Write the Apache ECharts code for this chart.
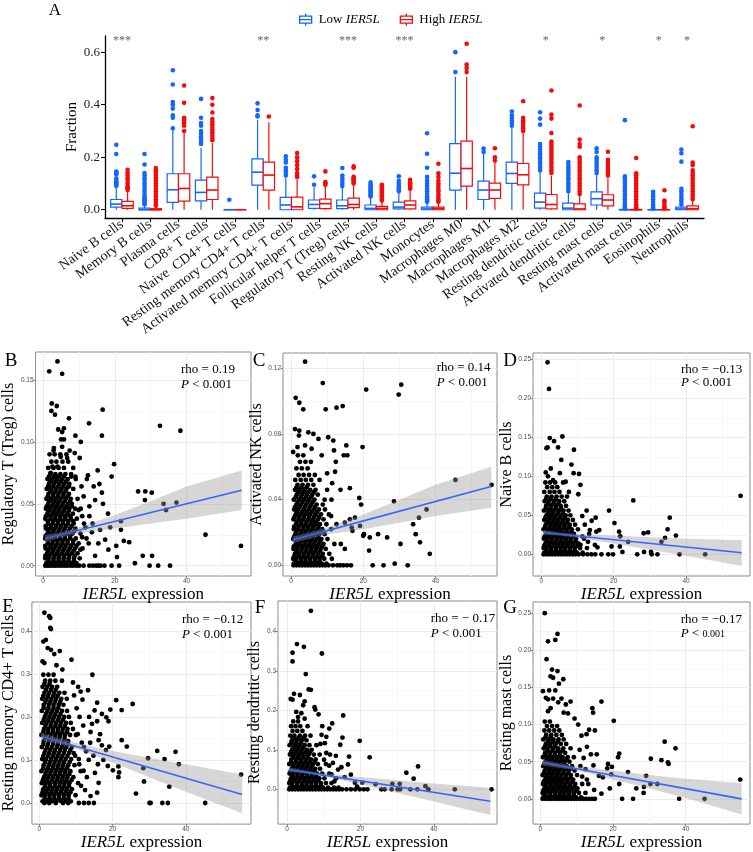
<!DOCTYPE html>
<html><head><meta charset="utf-8">
<script src="https://cdn.jsdelivr.net/npm/echarts@6/dist/echarts.min.js"></script>
<style>html,body{margin:0;padding:0;background:#fff}#c{width:753px;height:852px}</style>
</head><body><div id="c"></div><script>
const SERIF = 'Liberation Serif';
const BLUE = '#1166ff', RED = '#f50a0a';

// ---------- Panel A data ----------
const categories = ['Naive B cells','Memory B cells','Plasma cells','CD8+ T cells','Naive  CD4+ T cells','Resting memory CD4+ T cells','Activated memory CD4+ T cells','Follicular helper T cells','Regulatory T (Treg) cells','Resting NK cells','Activated NK cells','Monocytes','Macrophages M0','Macrophages M1','Macrophages M2','Resting dendritic cells','Activated dendritic cells','Resting mast cells','Activated mast cells','Eosinophils','Neutrophils'];
const sigLabels = ['***','','','','','**','','','***','','***','','','','','*','','*','','*','*'];
const fractionTicks = [0, 0.2, 0.4, 0.6];
// [min, Q1, median, Q3, max]
const lowBox = [[0,.010,.0215,.039,.085],[0,0,0,.006,.015],[0,.028,.076,.137,.305],[0,.034,.066,.113,.235],[0,0,0,0,0],[0,.094,.143,.194,.341],[0,0,.018,.047,.12],[0,.005,.020,.037,.085],[0,.004,.015,.037,.085],[0,0,.005,.018,.045],[0,.003,.010,.029,.068],[0,0,.003,.010,.025],[0,.075,.139,.252,.506],[0,.039,.075,.109,.212],[0,.100,.138,.181,.311],[0,.006,.029,.063,.145],[0,0,.006,.025,.062],[0,.018,.042,.068,.135],[0,0,0,.001,.003],[0,0,0,0,0],[0,0,.003,.010,.025]];
const highBox = [[0,.005,.015,.032,.07],[0,0,0,.004,.01],[0,.033,.081,.137,.292],[0,.039,.075,.124,.254],[0,0,0,0,0],[0,.075,.132,.181,.333],[0,0,.011,.048,.115],[0,.004,.023,.040,.09],[0,.008,.020,.044,.095],[0,0,.005,.013,.033],[0,.003,.018,.034,.078],[0,0,.004,.010,.025],[0,.090,.157,.261,.505],[0,.043,.075,.101,.18],[0,.095,.133,.176,.292],[0,.003,.020,.058,.13],[0,0,.003,.022,.055],[0,.015,.037,.057,.12],[0,0,0,.001,.003],[0,0,0,0,0],[0,0,.004,.015,.036]];
const lowOut = [[.247,.212,.145,.142,.138,.135,.12,.11,.105,.10,.095,.09],[.212,.172,.14,.13,.12,.11,.10,.09,.08,.07,.06,.05,.045,.04,.035,.03,.025,.02],[.531,.477,.41,.40,.385,.36,.35,.31],[.422,.35,.33,.32,.30,.29,.28,.27,.26,.25],[.038],[.405,.38,.36,.355],[.203,.19,.18,.16,.15,.14,.13],[.127,.095],[.159,.13,.12,.11,.10,.09],[.104,.095,.09,.085,.08,.075,.07,.065,.06,.055,.05],[.127,.11,.10,.09,.085,.08,.075,.07],[.291,.213,.16,.125,.11,.10,.09,.08,.07,.06,.05,.045,.04,.035,.03],[.60,.524],[.233,.22],[.374,.36,.35,.34,.33,.32],[.371,.347,.324,.25,.24,.23,.22,.21,.20,.19,.18,.17,.16,.15],[.182,.17,.16,.15,.14,.13,.12,.11,.10,.09,.08,.07],[.234,.22,.2,.19,.18,.17,.16,.15,.14],[.341,.127,.12,.11,.10,.09,.08,.07,.06,.05,.04,.03,.02,.015,.01,.005],[.068,.06,.05,.04,.03,.02,.01,.005],[.229,.215,.183,.08,.07,.06,.05,.04,.03,.02]];
const highOut = [[.152,.14,.13,.12,.11,.10,.09,.085,.08,.075],[.159,.15,.14,.13,.12,.11,.10,.09,.08,.07,.06,.05,.04,.03,.02,.015],[.473,.407,.35,.345,.34,.33,.32,.30],[.425,.40,.37,.345,.335,.325,.315,.305,.295,.285,.275,.265],[],[.355],[.216,.20,.185,.17,.155,.14,.13,.125],[.146,.105,.10,.095],[.165,.16,.125,.12,.115,.11,.105,.10],[.095,.09,.085,.08,.075,.07,.065,.06,.055,.05,.045,.04,.035],[.114,.105,.10,.095,.09,.085,.08],[.175,.139,.125,.11,.10,.09,.08,.07,.06,.05,.04,.035,.03],[.632,.553,.54,.524],[.234,.20,.187],[.413,.35,.34,.33,.32,.31,.30],[.454,.362,.347,.292,.26,.25,.24,.23,.22,.21,.20,.19,.18,.17,.16,.15,.14],[.397,.267,.25,.24,.20,.19,.18,.17,.16,.15,.14,.13,.12,.11,.10,.09,.08,.07,.06],[.221,.19,.18,.17,.16,.15,.14,.13],[.197,.139,.13,.12,.11,.10,.09,.08,.07,.06,.05,.04,.03,.02,.015,.01,.005],[.074,.035,.03,.02,.01,.005],[.318,.18,.17,.15,.14,.13,.12,.11,.10,.09,.08,.07,.06,.05,.04]];

// ---------- Scatter panels: x = IER5L expression ----------
const xMajor = [0, 20, 40];
const xMinor = [10, 30, 50];

// dense clouds written as rows: [y, [x values]]
const cloudB = [[.002,[0.9,2.2,3.6,5.0,6.4,7.9,9.3]],[.006,[0.6,1.5,2.9,4.3,5.7,7.1,8.6,10.2]],[.010,[1.1,2.4,3.8,5.2,6.6,8.0,9.6]],[.014,[0.7,1.8,3.1,4.5,5.9,7.4,8.9,11.0]],[.018,[1.3,2.6,4.0,5.4,6.8,8.3,9.9]],[.022,[0.6,2.0,3.3,4.7,6.1,7.6,9.1,12.1]],[.026,[1.2,2.5,3.9,5.3,6.7,8.2,10.4]],[.030,[0.8,1.9,3.2,4.6,6.0,7.5,9.0]],[.034,[1.4,2.7,4.1,5.5,6.9,8.5,11.4]],[.038,[0.6,2.1,3.4,4.8,6.2,7.7,9.4]],[.042,[1.2,2.6,3.9,5.3,6.8,8.3]],[.046,[0.8,1.9,3.3,4.6,6.0,7.3,8.9,10.5]],[.050,[1.4,2.8,4.1,5.5,7.0,8.0]],[.054,[0.9,2.2,3.5,4.9,6.3,7.7,9.6]],[.058,[1.5,2.9,4.3,5.7,7.2]],[.062,[1.0,2.3,3.7,5.1,6.5,8.4]],[.066,[1.6,3.0,4.4,5.8,7.3]],[.070,[1.2,2.5,3.9,5.3,6.9,9.1]],[.074,[2.0,3.4,4.8,6.2,7.8]],[.079,[1.4,2.9,4.3,5.8]],[.084,[2.3,3.7,5.4,7.0]],[.090,[1.8,3.2,4.8,6.5]],
 [.004,[1.5,2.9,4.3,5.7,7.1,8.6]],[.008,[0.6,1.8,3.2,4.5,5.9,7.3,8.8]],[.012,[1.4,2.8,4.2,5.6,7.0,8.5]],[.016,[0.6,2.1,3.5,4.9,6.3,7.8,9.3]],[.020,[1.3,2.7,4.0,5.4,6.8,8.4]],[.024,[0.7,1.9,3.3,4.6,6.0,7.5]],[.028,[1.5,2.9,4.3,5.7,7.1,8.7]],[.032,[0.7,2.2,3.6,5.0,6.4,7.9]],[.036,[1.3,2.8,4.1,5.5,7.0,8.4]],[.040,[0.8,2.0,3.4,4.8,6.2,7.6]],[.044,[1.5,2.9,4.3,5.7,7.1]],[.048,[1.0,2.3,3.7,5.1,6.5,8.0]],[.052,[1.7,3.1,4.5,6.0,7.5]],[.056,[1.3,2.7,4.1,5.5,6.8]],[.060,[2.0,3.4,4.8,6.2]],[.064,[1.4,2.8,4.2,5.6,7.0]],[.068,[2.1,3.5,4.9,6.4]],[.072,[1.6,3.0,4.4,5.8]]];
const sparseB = [[4.0,.165],[1.7,.157],[5.3,.155],[2.4,.131],[3.8,.129],[2.3,.125],[3.3,.122],[7.2,.119],[12.8,.115],[16.6,.126],[16.4,.105],[32.6,.113],[38.3,.109],[9.0,.105],[10.5,.100],[19.8,.082],[19.1,.072],[26.5,.060],[28.5,.060],[30.3,.059],[28.4,.053],[33.6,.050],[34.3,.045],[37.2,.051],[45.3,.025],[55.2,.016],[21.7,.036],[21.7,.029],[22.5,.020],[24.0,.019],[20.4,.016],[20.6,.007],[21.2,0],[25.6,.002],[27.8,.008],[30.4,.008],[32.1,0],[35.4,0],[29.7,0],[18.1,.042],[18.7,.031],[17.3,.021],[18.2,.013],[15.4,.018],[15.9,.029],[15.2,.077],[15.7,.066],[14.1,.064],[14.5,.053],[16.4,.059],[16.7,.050],[12.9,.048],[12.9,.040],[13.8,.034],[13.6,.027],[12.7,.018],[14.5,.008],[12.9,0],[11.3,0],[15.4,0],[17.1,0],[19.1,0],[10.7,.064],[11.3,.056],[9.9,.045],[10.9,.040],[11.8,.031],[10.9,.023],[10.4,.013],[12.2,.070],[12.5,.073],[10.2,.087],[8.8,.091],[7.4,.093],[6.7,.087],[5.3,.096],[5.3,.108],[5.8,.111],[5.0,.102],[4.2,.110],[5.8,.102],[3.0,.095],[2.9,.093],[4.9,.088],[4.0,.080],[2.6,.080],[3.5,.072],[2.1,.075],[1.7,.064],[8.4,.079],[7.9,.072],[7.2,.064],[9.0,.072],[0.6,0],[1.3,0],[2.0,0],[2.8,0],[3.5,0],[4.3,0],[5.1,0],[5.9,0],[6.7,0],[7.6,0],[8.4,0],[9.3,0],[10.1,0],[13.9,0],[14.8,0],[16.0,0]];

const cloudC = [[.001,[0.8,2.0,3.3,4.6,5.9,7.2,8.5,9.8]],[.004,[0.6,1.4,2.7,4.0,5.3,6.6,7.9,9.2,11.3]],[.007,[1.1,2.3,3.6,4.9,6.2,7.5,8.8,10.6]],[.010,[0.7,1.7,3.0,4.3,5.6,6.9,8.2,9.6]],[.013,[1.3,2.5,3.8,5.1,6.4,7.7,9.0,12.0]],[.016,[0.6,1.9,3.2,4.5,5.8,7.1,8.4,10.1]],[.019,[1.2,2.6,3.9,5.2,6.5,7.8,9.3]],[.022,[0.8,2.0,3.3,4.6,5.9,7.3,8.7,11.1]],[.025,[1.4,2.7,4.0,5.4,6.7,8.0,9.8]],[.028,[0.7,2.1,3.4,4.8,6.1,7.5,9.0]],[.031,[1.3,2.6,4.0,5.3,6.8,8.3,10.5]],[.034,[0.9,2.0,3.5,4.9,6.3,7.7]],[.037,[1.5,2.8,4.2,5.6,7.1,8.8]],[.040,[0.8,2.3,3.6,5.0,6.5,9.3]],[.043,[1.6,3.0,4.4,5.9,7.4]],[.046,[1.1,2.4,3.8,5.3,6.8,10.0]],[.049,[1.8,3.2,4.7,6.2]],[.052,[1.2,2.7,4.1,5.6,7.9]],[.055,[2.1,3.5,5.0,6.6]],[.059,[1.5,3.0,4.6]],[.063,[2.5,4.0,5.5]],[.067,[1.9,3.4]],
 [.0025,[1.4,2.7,4.0,5.3,6.6,7.9]],[.0055,[0.9,2.1,3.4,4.7,6.0,7.3,8.6]],[.0085,[1.5,2.8,4.1,5.4,6.7,8.0]],[.0115,[0.8,2.0,3.3,4.6,5.9,7.2,8.6]],[.0145,[1.4,2.7,4.0,5.3,6.6,8.0]],[.0175,[0.9,2.2,3.5,4.8,6.1,7.5]],[.0205,[1.5,2.9,4.2,5.6,6.9,8.2]],[.0235,[0.9,2.1,3.5,4.8,6.2,7.6]],[.0265,[1.6,2.9,4.3,5.7,7.0]],[.0295,[1.0,2.3,3.6,5.0,6.4,7.8]],[.0325,[1.7,3.1,4.4,5.8,7.2]],[.0355,[1.1,2.4,3.8,5.2,6.6]],[.0385,[1.8,3.2,4.6,6.0]],[.0415,[1.3,2.7,4.1,5.5]],[.0445,[2.0,3.4,4.8,6.3]],[.0475,[1.5,2.9,4.3]]];
const sparseC = [[3.9,.124],[8.8,.111],[1.3,.102],[2.3,.099],[3.4,.095],[9.6,.095],[12.6,.096],[14.3,.097],[20.8,.107],[29.8,.104],[30.5,.110],[1.1,.083],[2.3,.082],[2.2,.079],[4.8,.081],[6.2,.080],[7.6,.077],[10.3,.078],[11.7,.076],[1.8,.072],[0.6,.069],[3.9,.073],[5.7,.071],[8.5,.067],[11.9,.070],[15.3,.073],[14.6,.067],[15.6,.067],[12.4,.063],[19.8,.072],[16.3,.047],[18.9,.041],[19.4,.037],[28.5,.039],[37.5,.034],[35.4,.029],[33.8,.025],[45.5,.052],[55.5,.049],[34.5,.019],[35.7,.014],[38.4,.007],[30.3,.013],[24.1,.019],[26.6,.017],[21.8,.017],[21.6,.009],[20.2,.019],[20.0,.018],[17.7,.029],[16.3,.028],[16.8,.023],[14.9,.026],[17.0,.021],[19.1,.024],[22.6,0],[25.6,0],[28.7,.001],[32.3,0],[11.4,.050],[13.7,.046],[11.2,.040],[10.0,.056],[12.2,.057],[9.4,.034],[11.1,.030],[12.6,.025],[13.8,.013],[14.9,.010],[16.6,0],[0.7,0],[1.5,0],[2.3,0],[3.1,0],[3.9,0],[4.7,0],[5.5,0],[6.3,0],[7.1,0],[7.9,0],[8.7,0],[9.5,0],[10.4,0],[11.6,0],[12.8,0],[13.6,0],[14.5,0],[15.5,0]];

const cloudD = [[.002,[0.8,2.0,3.3,4.6,5.9,7.2,8.5,9.8,11.4]],[.008,[0.6,1.4,2.7,4.0,5.3,6.6,7.9,9.2,10.7,12.6]],[.014,[1.1,2.3,3.6,4.9,6.2,7.5,8.8,10.2]],[.020,[0.7,1.7,3.0,4.3,5.6,6.9,8.2,9.6,11.8]],[.026,[1.3,2.5,3.8,5.1,6.4,7.7,9.0,13.2]],[.032,[0.6,1.9,3.2,4.5,5.8,7.1,8.4,10.1]],[.038,[1.2,2.6,3.9,5.2,6.5,7.8,9.3]],[.044,[0.8,2.0,3.3,4.6,5.9,7.3,8.7]],[.050,[1.4,2.7,4.0,5.4,6.7,8.0]],[.056,[0.7,2.1,3.4,4.8,6.1,7.5]],[.062,[1.3,2.6,4.0,5.3,6.8]],[.068,[0.9,2.0,3.5,4.9,6.3]],[.074,[1.5,2.8,4.2,5.6,7.1]],[.080,[0.8,2.3,3.6,5.0,7.6]],[.086,[1.6,3.0,4.4]],[.092,[1.1,2.4,3.8,6.0]],
 [.005,[1.4,2.7,4.0,5.3,6.6,7.9,9.2]],[.011,[0.8,2.0,3.3,4.6,5.9,7.2,8.5,9.9]],[.017,[1.5,2.8,4.1,5.4,6.7,8.0,9.4]],[.023,[0.9,2.1,3.4,4.7,6.0,7.4,8.8]],[.029,[1.6,2.9,4.2,5.5,6.9,8.3]],[.035,[1.0,2.3,3.6,4.9,6.3,7.7]],[.041,[1.7,3.0,4.3,5.7,7.0]],[.047,[1.1,2.4,3.7,5.1,6.5]],[.053,[1.8,3.1,4.5,5.9]],[.059,[1.2,2.5,3.9,5.4]],[.065,[1.9,3.3,4.7]],[.071,[1.3,2.6,4.0]]];
const sparseD = [[1.7,.246],[2.1,.212],[2.3,.149],[3.5,.145],[4.6,.137],[5.8,.151],[1.7,.137],[1.4,.136],[9.0,.134],[5.5,.121],[8.3,.115],[8.9,.104],[10.4,.103],[10.8,.089],[10.2,.077],[6.7,.093],[5.1,.104],[2.6,.110],[1.2,.105],[1.8,.100],[3.2,.095],[25.4,.069],[18.7,.056],[20.2,.040],[35.5,.047],[34.9,.032],[34.2,.021],[33.2,.016],[37.2,.024],[55.1,.075],[29.5,.028],[28.3,.027],[21.5,.029],[21.8,.023],[24.0,.016],[22.4,.003],[26.5,0],[28.4,.003],[30.3,.003],[30.5,0],[32.1,0],[38.2,0],[45.3,0],[19.8,0],[18.5,0],[19.4,.010],[21.7,.010],[15.5,.009],[14.8,.012],[16.6,0],[15.2,.029],[16.0,.031],[15.0,.047],[13.9,.043],[12.5,.056],[11.3,.049],[12.0,.038],[13.4,.031],[11.3,.023],[12.9,.016],[10.8,.012],[0.6,0],[1.4,0],[2.2,0],[3.0,0],[3.8,0],[4.6,0],[5.4,0],[6.2,0],[7.0,0],[7.8,0],[8.6,0],[9.4,0],[10.3,0],[11.5,0],[12.7,0],[13.8,0],[14.9,0]];

const cloudE = [[.004,[0.9,2.1,3.4,4.7,6.0,7.3,8.6]],[.018,[0.6,1.5,2.8,4.1,5.4,6.7,8.0,9.9]],[.032,[1.1,2.3,3.6,4.9,6.2,7.5,8.9]],[.046,[0.7,1.8,3.0,4.3,5.6,6.9,8.2,10.6]],[.060,[1.3,2.5,3.8,5.1,6.4,7.7,9.3]],[.074,[0.6,2.0,3.2,4.5,5.8,7.1,8.5,11.3]],[.088,[1.2,2.6,3.9,5.2,6.5,7.9,9.6]],[.102,[0.8,1.9,3.3,4.6,5.9,7.2,8.7,10.8]],[.116,[1.4,2.7,4.0,5.3,6.7,8.1,9.4]],[.130,[0.7,2.1,3.4,4.8,6.1,7.4,8.9,12.2]],[.144,[1.2,2.6,3.9,5.2,6.6,7.9]],[.158,[0.6,1.8,3.1,4.4,5.7,7.0,8.4,10.0]],[.172,[1.3,2.5,3.8,5.1,6.4,7.7,9.2]],[.186,[0.8,2.0,3.3,4.6,5.9,7.3,8.6]],[.200,[1.5,2.8,4.1,5.4,6.8,8.1]],[.214,[0.7,2.2,3.5,4.8,6.2,7.6]],[.228,[1.2,2.6,3.9,5.3,6.6]],[.242,[0.8,2.0,3.3,4.6,6.0,7.5]],[.256,[1.4,2.7,4.1,5.5,6.9]],[.270,[0.9,2.2,3.5,4.9]],[.284,[1.6,3.0,4.4,6.2]],[.298,[1.1,2.5,3.9]],
 [.011,[1.5,2.8,4.1,5.4,6.7,8.0]],[.025,[0.9,2.0,3.3,4.6,5.9,7.2,8.5]],[.039,[1.6,2.9,4.2,5.5,6.8,8.1]],[.053,[1.0,2.2,3.5,4.8,6.1,7.4,8.8]],[.067,[1.7,3.0,4.3,5.6,6.9,8.2]],[.081,[1.1,2.4,3.7,5.0,6.3,7.6]],[.095,[1.6,2.9,4.2,5.5,6.8,8.3]],[.109,[1.1,2.4,3.7,5.0,6.3,7.7]],[.123,[1.7,3.0,4.3,5.7,7.0,8.5]],[.137,[1.1,2.4,3.8,5.1,6.5,7.8]],[.151,[1.6,2.9,4.2,5.5,6.9]],[.165,[1.1,2.4,3.7,5.0,6.3,7.6]],[.179,[1.7,3.1,4.4,5.7,7.0]],[.193,[1.2,2.5,3.8,5.2,6.5]],[.207,[1.8,3.1,4.4,5.8]],[.221,[1.2,2.5,3.9,5.2]],[.235,[1.7,3.0,4.3,5.7]],[.249,[1.1,2.4,3.8,5.0]],[.263,[1.8,3.2,4.5]],[.277,[1.4,2.8]]];
const sparseE = [[1.4,.442],[2.7,.434],[3.0,.430],[3.0,.407],[3.2,.404],[1.1,.375],[1.8,.379],[2.3,.360],[3.2,.356],[4.1,.346],[5.6,.353],[8.8,.333],[0.9,.329],[1.4,.325],[4.7,.320],[6.3,.310],[14.5,.298],[13.3,.262],[11.3,.259],[21.0,.239],[25.5,.230],[22.5,.216],[15.8,.233],[19.4,.217],[15.1,.215],[17.1,.207],[18.3,.199],[18.9,.190],[15.8,.190],[14.4,.184],[14.0,.165],[16.2,.146],[22.5,.146],[19.1,.131],[17.1,.134],[18.2,.123],[23.9,.131],[32.2,.121],[37.2,.119],[34.2,.102],[38.1,.090],[29.7,.104],[28.4,.081],[28.6,.050],[26.4,.022],[21.6,.085],[21.8,.071],[21.6,.060],[18.7,.086],[20.1,.076],[35.5,.038],[55.1,.066],[30.1,0],[30.4,0],[33.6,0],[35.1,0],[45.3,0],[16.2,.047],[15.8,.024],[14.0,.016],[13.5,0],[14.9,0],[12.2,0],[10.8,0],[7.9,0],[6.5,0],[4.5,0],[2.7,0],[1.4,0],[9.5,.25],[10.2,.22],[11.0,.20],[12.0,.18],[10.5,.16],[11.6,.14],[12.8,.12],[13.5,.10],[10.9,.09],[12.1,.075],[13.0,.06],[11.4,.04],[12.5,.03],[9.8,.11],[13.9,.14],[14.8,.11],[16.0,.09],[15.2,.07],[13.6,.20],[16.6,.16],[17.5,.10],[9.2,.28],[10.6,.27],[11.8,.24]];

const cloudF = [[.004,[0.8,2.0,3.3,4.6,5.9,7.2,8.5,9.8,11.2,12.8,14.0]],[.016,[0.6,1.4,2.7,4.0,5.3,6.6,7.9,9.2,10.6,12.1]],[.028,[1.1,2.3,3.6,4.9,6.2,7.5,8.8,10.2,13.4]],[.040,[0.7,1.7,3.0,4.3,5.6,6.9,8.2,9.6,11.5]],[.052,[1.3,2.5,3.8,5.1,6.4,7.7,9.0]],[.064,[0.6,1.9,3.2,4.5,5.8,7.1,8.4,10.6]],[.076,[1.2,2.6,3.9,5.2,6.5,7.8]],[.088,[0.8,2.0,3.3,4.6,5.9,7.3,8.9]],[.100,[1.4,2.7,4.0,5.4,6.7]],[.112,[0.7,2.1,3.4,4.8,6.1,8.0]],[.124,[1.3,2.6,4.0,5.3]],[.136,[0.9,2.0,3.5,4.9,6.4]],[.148,[1.5,2.8,4.2]],[.160,[1.1,2.3,3.6,5.6]],[.172,[1.7,3.0]],
 [.010,[1.4,2.7,4.0,5.3,6.6,7.9,9.2]],[.022,[0.9,2.0,3.3,4.6,5.9,7.2,8.5]],[.034,[1.5,2.8,4.1,5.4,6.7,8.0]],[.046,[1.0,2.2,3.5,4.8,6.1,7.4]],[.058,[1.6,2.9,4.2,5.5,6.8]],[.070,[1.1,2.4,3.7,5.0,6.3,7.6]],[.082,[1.7,3.0,4.3,5.6]],[.094,[1.1,2.4,3.7,5.0,6.2]],[.106,[1.8,3.1,4.4]],[.118,[1.2,2.5,3.8]],[.130,[1.8,3.1,4.5]]];
const sparseF = [[6.5,.452],[2.7,.368],[4.6,.361],[9.5,.344],[1.5,.346],[1.5,.324],[5.1,.292],[5.9,.253],[6.5,.252],[1.0,.229],[1.5,.227],[1.9,.242],[3.5,.239],[4.8,.223],[4.4,.213],[7.5,.208],[7.7,.202],[2.5,.196],[3.9,.193],[3.0,.183],[4.8,.179],[15.3,.187],[12.3,.167],[11.5,.154],[19.8,.123],[15.1,.131],[14.5,.113],[22.5,.081],[16.9,.083],[32.5,.042],[35.7,.058],[34.5,.027],[30.7,.014],[28.7,.014],[37.7,.008],[20.5,.017],[24.1,.013],[17.4,.037],[16.6,.063],[14.8,.056],[15.7,.031],[18.5,.017],[19.1,.007],[19.8,0],[20.9,0],[21.9,0],[25.7,0],[26.6,0],[28.5,0],[30.1,0],[30.8,0],[33.6,0],[35.5,0],[38.5,0],[45.7,0],[55.7,0],[10.7,.133],[9.4,.138],[10.3,.117],[11.7,.088],[10.7,.092],[9.1,.115],[12.5,.067],[13.9,.050],[12.1,.038],[15.0,0],[16.2,0],[17.4,0],[18.6,0],[12.9,.02],[11.5,.06],[10.1,.075],[13.3,.085],[9.6,.16],[8.6,.19],[0.6,0],[1.4,0],[2.2,0],[3.0,0],[3.8,0],[4.6,0],[5.4,0],[6.2,0],[7.0,0],[7.8,0],[8.6,0],[9.4,0],[10.2,0],[11.0,0],[11.8,0],[12.6,0],[13.4,0],[14.2,0]];

const cloudG = [[.002,[0.8,2.0,3.3,4.6,5.9,7.2,8.5,9.8,11.2]],[.008,[0.6,1.4,2.7,4.0,5.3,6.6,7.9,9.2,10.6,12.4]],[.014,[1.1,2.3,3.6,4.9,6.2,7.5,8.8,10.2]],[.020,[0.7,1.7,3.0,4.3,5.6,6.9,8.2,9.6,11.5]],[.026,[1.3,2.5,3.8,5.1,6.4,7.7,9.0,12.8]],[.032,[0.6,1.9,3.2,4.5,5.8,7.1,8.4,10.1]],[.038,[1.2,2.6,3.9,5.2,6.5,7.8,9.4]],[.044,[0.8,2.0,3.3,4.6,5.9,7.3,8.7,11.0]],[.050,[1.4,2.7,4.0,5.4,6.7,8.0]],[.056,[0.7,2.1,3.4,4.8,6.1,7.5,9.2]],[.062,[1.3,2.6,4.0,5.3,6.8]],[.068,[0.9,2.0,3.5,4.9,6.3,8.3]],[.074,[1.5,2.8,4.2,5.6,7.1]],[.080,[0.8,2.3,3.6,5.0,6.4]],[.086,[1.6,3.0,4.4,5.9]],[.092,[1.1,2.4,3.8,5.2]],[.098,[1.8,3.2,4.6]],[.104,[1.2,2.6]],
 [.005,[1.4,2.7,4.0,5.3,6.6,7.9,9.2]],[.011,[0.8,2.0,3.3,4.6,5.9,7.2,8.5,9.9]],[.017,[1.5,2.8,4.1,5.4,6.7,8.0,9.4]],[.023,[0.9,2.1,3.4,4.7,6.0,7.4,8.8]],[.029,[1.6,2.9,4.2,5.5,6.9,8.3]],[.035,[1.0,2.3,3.6,4.9,6.3,7.7]],[.041,[1.7,3.0,4.3,5.7,7.0,8.4]],[.047,[1.1,2.4,3.7,5.1,6.5]],[.053,[1.8,3.1,4.5,5.9,7.2]],[.059,[1.2,2.5,3.9,5.4]],[.065,[1.9,3.3,4.7,6.1]],[.071,[1.3,2.6,4.0]],[.077,[2.0,3.4,4.8]],[.083,[1.4,2.8]]];
const sparseG = [[1.2,.250],[4.7,.222],[2.1,.212],[4.1,.214],[1.7,.188],[3.2,.174],[4.7,.172],[2.8,.165],[3.5,.163],[6.3,.161],[2.4,.146],[4.1,.146],[5.1,.155],[0.7,.145],[1.5,.136],[2.1,.134],[3.5,.135],[5.8,.135],[8.3,.131],[7.0,.127],[6.4,.116],[7.6,.115],[4.9,.130],[2.8,.122],[2.1,.118],[16.8,.131],[14.3,.122],[14.5,.116],[20.2,.105],[15.0,.092],[13.4,.093],[12.7,.087],[11.3,.085],[34.2,.077],[37.2,.068],[30.4,.054],[33.3,.052],[35.1,.049],[35.3,.047],[21.7,.061],[21.4,.056],[18.6,.047],[18.4,.041],[19.7,.043],[24.1,.036],[29.1,.031],[30.3,.020],[32.2,.020],[28.5,.016],[28.4,.008],[26.4,.014],[21.7,.020],[16.1,.031],[17.2,.029],[19.1,.014],[16.8,.007],[19.5,.033],[22.5,0],[25.5,0],[38.2,0],[45.2,0],[55.0,.026],[12.8,.07],[13.9,.06],[11.9,.055],[12.4,.04],[14.6,.045],[15.5,.06],[13.2,.02],[14.8,.012],[10.8,.066],[11.5,.03],[10.4,.1],[9.4,.108],[0.6,0],[1.4,0],[2.2,0],[3.0,0],[3.8,0],[4.6,0],[5.4,0],[6.2,0],[7.0,0],[7.8,0],[8.6,0],[9.4,0],[10.2,0],[11.0,0],[11.8,0],[12.6,0],[13.4,0],[14.2,0],[15.0,0]];

// regression fit endpoints [x, y] and confidence band [x, lower, upper]
const fitB = [[0.5,.022],[55.4,.061]];
const ribB = [[0.5,.019,.025],[5,.023,.027],[10,.026,.031],[20,.030,.041],[30,.034,.052],[40,.038,.064],[55.4,.045,.077]];
const fitC = [[0.5,.0155],[55.4,.048]];
const ribC = [[0.5,.0135,.0175],[5,.016,.020],[10,.019,.023],[20,.022,.031],[30,.026,.040],[40,.030,.049],[55.4,.035,.060]];
const fitD = [[0.5,.028],[55.4,.002]];
const ribD = [[0.5,.025,.031],[5,.024,.028],[10,.021,.026],[20,.014,.024],[30,.006,.022],[40,-.002,.020],[55.4,-.015,.018]];
const fitE = [[0.5,.155],[55.4,.020]];
const ribE = [[0.5,.146,.164],[5,.138,.151],[10,.126,.140],[20,.094,.121],[30,.060,.105],[40,.026,.090],[55.4,-.024,.066]];
const fitF = [[0.5,.050],[55.4,-.030]];
const ribF = [[0.5,.044,.056],[5,.040,.048],[10,.033,.041],[20,.012,.031],[30,-.009,.023],[40,-.031,.015],[55.4,-.065,.004]];
const fitG = [[0.5,.049],[55.4,.000]];
const ribG = [[0.5,.045,.053],[5,.042,.048],[10,.038,.044],[20,.026,.038],[30,.014,.032],[40,.001,.027],[55.4,-.021,.021]];

const rhoText = ['rho = 0.19','rho = 0.14','rho = \u22120.13','rho = \u22120.12','rho = \u2212 0.17','rho = \u22120.17'];
const yNames = ['Regulatory T (Treg) cells','Activated NK cells','Naive B cells','Resting memory CD4+ T cells','Resting dendritic cells','Resting mast cells'];

function expandRows(rows){ const out=[]; rows.forEach(r=>r[1].forEach(x=>out.push([x,r[0]]))); return out; }

// layout (positions/styles only)
const panels = [
 {L:'B', cloud:cloudB, sparse:sparseB, fit:fitB, rib:ribB, grid:{left:33,top:352,width:218,height:224}, x:[-2.12,58.0], y:[-0.0083,0.1726], yMaj:[0,.05,.10,.15], yMin:[.025,.075,.125], dec:2, yGap:14, xGap:5, lab:[11,361], rho:[181,370,385]},
 {L:'C', cloud:cloudC, sparse:sparseC, fit:fitC, rib:ribC, grid:{left:283,top:353,width:214,height:223}, x:[-2.21,57.0], y:[-0.0065,0.1293], yMaj:[0,.04,.08,.12], yMin:[.02,.06,.10], dec:2, yGap:13, xGap:5, lab:[259,361], rho:[436.7,368,383]},
 {L:'D', cloud:cloudD, sparse:sparseD, fit:fitD, rib:ribD, grid:{left:533,top:353,width:217,height:223}, x:[-2.33,57.7], y:[-0.0278,0.258], yMaj:[0,.05,.10,.15,.20,.25], yMin:[-.025,.025,.075,.125,.175,.225], dec:2, yGap:14, xGap:5, lab:[510,361], rho:[681,370,383]},
 {L:'E', cloud:cloudE, sparse:sparseE, fit:fitE, rib:ribE, grid:{left:29,top:602,width:222,height:225}, x:[-2.0,57.8], y:[-0.049,0.467], yMaj:[0,.1,.2,.3,.4], yMin:[.05,.15,.25,.35,.45], dec:1, yGap:12, xGap:6, lab:[8,607], rho:[182,620,635]},
 {L:'F', cloud:cloudF, sparse:sparseF, fit:fitF, rib:ribF, grid:{left:278,top:601,width:219,height:226}, x:[-2.46,57.2], y:[-0.088,0.477], yMaj:[0,.1,.2,.3,.4], yMin:[-.05,.05,.15,.25,.35,.45], dec:1, yGap:10, xGap:6, lab:[260,608], rho:[430.7,619,634]},
 {L:'G', cloud:cloudG, sparse:sparseG, fit:fitG, rib:ribG, grid:{left:533,top:602,width:217,height:225}, x:[-2.04,57.7], y:[-0.034,0.265], yMaj:[0,.05,.10,.15,.20,.25], yMin:[-.025,.025,.075,.125,.175,.225], dec:2, yGap:15, xGap:6, lab:[510,608], rho:[680.7,620,634], smallP:true}
];

const catIdx = categories.map((c,i)=>i);
const grids = [{left:105, top:36, width:599, height:182}];
const xAxes = [{
  type:'value', gridIndex:0, min:-0.6, max:20.6,
  axisLine:{show:true, onZero:false, lineStyle:{color:'#000', width:1.3}},
  axisTick:{show:true, length:4, lineStyle:{color:'#000', width:1}, customValues:catIdx},
  axisLabel:{customValues:catIdx, formatter:v=>categories[Math.round(v)], rotate:36, fontFamily:SERIF, fontSize:14, color:'#111', margin:5},
  splitLine:{show:false}
}];
const yAxes = [{
  type:'value', gridIndex:0, min:-0.0315, max:0.6615,
  axisLine:{show:true, onZero:false, lineStyle:{color:'#000', width:1.3}},
  axisTick:{show:true, length:4, lineStyle:{color:'#000', width:1}, customValues:fractionTicks},
  axisLabel:{customValues:fractionTicks, formatter:v=>v.toFixed(1), fontFamily:SERIF, fontSize:13, color:'#222', margin:5},
  splitLine:{show:false},
  name:'Fraction', nameLocation:'middle', nameGap:25, nameMoveOverlap:false, nameTextStyle:{fontFamily:SERIF, fontSize:15, color:'#000'}
}];

function boxItem(off, color){
  return function(params, api){
    const c = api.value(0) + off, hw = 0.2;
    const mn=api.value(1), q1=api.value(2), md=api.value(3), q3=api.value(4), mx=api.value(5);
    const pMn=api.coord([c,mn]), pQ1=api.coord([c,q1]), pQ3=api.coord([c,q3]), pMx=api.coord([c,mx]);
    const l=api.coord([c-hw,md])[0], r=api.coord([c+hw,md])[0], ym=api.coord([c,md])[1];
    return {type:'group', children:[
      {type:'line', shape:{x1:pMn[0],y1:pMn[1],x2:pQ1[0],y2:pQ1[1]}, style:{stroke:color, lineWidth:1.2}},
      {type:'line', shape:{x1:pQ3[0],y1:pQ3[1],x2:pMx[0],y2:pMx[1]}, style:{stroke:color, lineWidth:1.2}},
      {type:'rect', shape:{x:l, y:pQ3[1], width:r-l, height:pQ1[1]-pQ3[1]}, style:{stroke:color, lineWidth:1.2, fill:'#fff'}},
      {type:'line', shape:{x1:l,y1:ym,x2:r,y2:ym}, style:{stroke:color, lineWidth:1.6}}
    ]};
  };
}
function outlierData(arr, off){ const d=[]; arr.forEach((vals,i)=>vals.forEach(v=>d.push([i+off,v]))); return d; }

const series = [
  {name:'Low', type:'scatter', xAxisIndex:0, yAxisIndex:0, data:outlierData(lowOut,-0.2), symbolSize:4.6, itemStyle:{color:BLUE, opacity:1}, z:2, silent:true},
  {name:'High', type:'scatter', xAxisIndex:0, yAxisIndex:0, data:outlierData(highOut,0.2), symbolSize:4.6, itemStyle:{color:RED, opacity:1}, z:2, silent:true},
  {name:'Low', type:'custom', xAxisIndex:0, yAxisIndex:0, data:lowBox.map((b,i)=>[i].concat(b)), renderItem:boxItem(-0.2,BLUE), encode:{x:0,y:[1,2,3,4,5]}, z:3, silent:true},
  {name:'High', type:'custom', xAxisIndex:0, yAxisIndex:0, data:highBox.map((b,i)=>[i].concat(b)), renderItem:boxItem(0.2,RED), encode:{x:0,y:[1,2,3,4,5]}, z:3, silent:true},
  {type:'scatter', xAxisIndex:0, yAxisIndex:0, data:sigLabels.map((s,i)=>[i,0.642,s]).filter(d=>d[2]), symbolSize:1, itemStyle:{color:'rgba(0,0,0,0)'}, silent:true,
   label:{show:true, position:'inside', formatter:p=>p.value[2], fontFamily:SERIF, fontSize:12, color:'#3a3a3a'}}
];

const graphics = [{type:'text', z:100, x:55, y:11, style:{text:'A', fontFamily:SERIF, fontSize:17, fill:'#000', align:'center', textAlign:'center', verticalAlign:'middle', textVerticalAlign:'middle'}}];

const tickLab = {fontFamily:'Liberation Sans', fontSize:6.5, color:'#4d4d4d'};
panels.forEach((p, k)=>{
  const gi = k+1;
  grids.push(Object.assign({show:true, borderColor:'#8c8c8c', borderWidth:1, backgroundColor:'#fff'}, p.grid));
  const xi = xAxes.length, yi = yAxes.length;
  xAxes.push({type:'value', gridIndex:gi, min:p.x[0], max:p.x[1],
    axisLine:{show:false, onZero:false}, axisTick:{show:true, length:2.5, lineStyle:{color:'#555', width:0.7}, customValues:xMajor},
    axisLabel:Object.assign({customValues:xMajor, margin:2}, tickLab),
    splitLine:{show:true, lineStyle:{color:'#ebebeb', width:1}},
    name:'{i|IER5L} expression', nameLocation:'middle', nameGap:p.xGap,
    nameTextStyle:{fontFamily:SERIF, fontSize:17, color:'#000', verticalAlign:'top', rich:{i:{fontFamily:SERIF, fontSize:17, fontStyle:'italic', color:'#000'}}}});
  xAxes.push({type:'value', gridIndex:gi, min:p.x[0], max:p.x[1], position:'top',
    axisLine:{show:false, onZero:false}, axisTick:{show:false, customValues:xMinor}, axisLabel:{show:false, customValues:xMinor},
    splitLine:{show:true, lineStyle:{color:'#f4f4f4', width:0.8}}});
  yAxes.push({type:'value', gridIndex:gi, min:p.y[0], max:p.y[1],
    axisLine:{show:false, onZero:false}, axisTick:{show:true, length:2.5, lineStyle:{color:'#555', width:0.7}, customValues:p.yMaj},
    axisLabel:Object.assign({customValues:p.yMaj, margin:2, formatter:v=>v.toFixed(p.dec)}, tickLab),
    splitLine:{show:true, lineStyle:{color:'#ebebeb', width:1}},
    name:yNames[k], nameLocation:'middle', nameGap:p.yGap,
    nameTextStyle:{fontFamily:SERIF, fontSize:16, color:'#000'}});
  yAxes.push({type:'value', gridIndex:gi, min:p.y[0], max:p.y[1], position:'right',
    axisLine:{show:false, onZero:false}, axisTick:{show:false, customValues:p.yMin}, axisLabel:{show:false, customValues:p.yMin},
    splitLine:{show:true, lineStyle:{color:'#f4f4f4', width:0.8}}});
  const pts = expandRows(p.cloud).concat(p.sparse);
  series.push({type:'scatter', xAxisIndex:xi, yAxisIndex:yi, data:pts, symbolSize:4.8, itemStyle:{color:'#000', opacity:1}, z:2, silent:true, large:false});
  const rib = p.rib;
  series.push({type:'custom', xAxisIndex:xi, yAxisIndex:yi, data:rib, encode:{x:0,y:[1,2]}, z:4, silent:true,
    renderItem:function(params, api){
      if (params.dataIndex !== 0) return null;
      const pts2=[];
      rib.forEach(r=>pts2.push(api.coord([r[0],r[2]])));
      for (let j=rib.length-1;j>=0;j--) pts2.push(api.coord([rib[j][0],rib[j][1]]));
      return {type:'polygon', shape:{points:pts2}, style:{fill:'rgba(153,153,153,0.4)'}};
    }});
  series.push({type:'line', xAxisIndex:xi, yAxisIndex:yi, data:p.fit, showSymbol:false, symbol:'none', lineStyle:{color:'#3366ff', width:1.6}, z:5, silent:true});
  graphics.push({type:'text', z:100, x:p.lab[0], y:p.lab[1], style:{text:p.L, fontFamily:SERIF, fontSize:19, fill:'#000', align:'center', textAlign:'center', verticalAlign:'middle', textVerticalAlign:'middle'}});
  graphics.push({type:'text', z:100, x:p.rho[0], y:p.rho[1], style:{text:rhoText[k], fontFamily:SERIF, fontSize:13, fill:'#000', align:'left', textAlign:'left', verticalAlign:'middle', textVerticalAlign:'middle'}});
  graphics.push({type:'text', z:100, x:p.rho[0], y:p.rho[2], style:{text:'{i|P} < ' + (p.smallP ? '{s|0.001}' : '0.001'), fontFamily:SERIF, fontSize:13, fill:'#000', align:'left', textAlign:'left', verticalAlign:'middle', textVerticalAlign:'middle',
    rich:{i:{fontFamily:SERIF, fontSize:13, fontStyle:'italic', fill:'#000', color:'#000'}, s:{fontFamily:SERIF, fontSize:10, fill:'#000', color:'#000'}}}});
});

const boxIcon = 'path://M1,3H15V11H1ZM1,7H15M8,0V3M8,11V14';
const chart = echarts.init(document.getElementById('c'), null, {renderer:'canvas', width:753, height:852});
chart.setOption({
  animation:false, backgroundColor:'#fff',
  legend:{left:294, top:8, itemWidth:16, itemHeight:12, itemGap:20, selectedMode:false,
    data:[{name:'Low', icon:boxIcon, itemStyle:{color:'rgba(0,0,0,0)', borderColor:BLUE, borderWidth:1.3}},
          {name:'High', icon:boxIcon, itemStyle:{color:'rgba(0,0,0,0)', borderColor:RED, borderWidth:1.3}}],
    formatter:n=>'{a|'+n+' }{b|IER5L}',
    textStyle:{fontFamily:SERIF, fontSize:13, color:'#000', rich:{a:{fontFamily:SERIF, fontSize:13, color:'#000'}, b:{fontFamily:SERIF, fontSize:13, fontStyle:'italic', color:'#000'}}}},
  grid:grids, xAxis:xAxes, yAxis:yAxes, series:series, graphic:graphics
});
</script></body></html>
